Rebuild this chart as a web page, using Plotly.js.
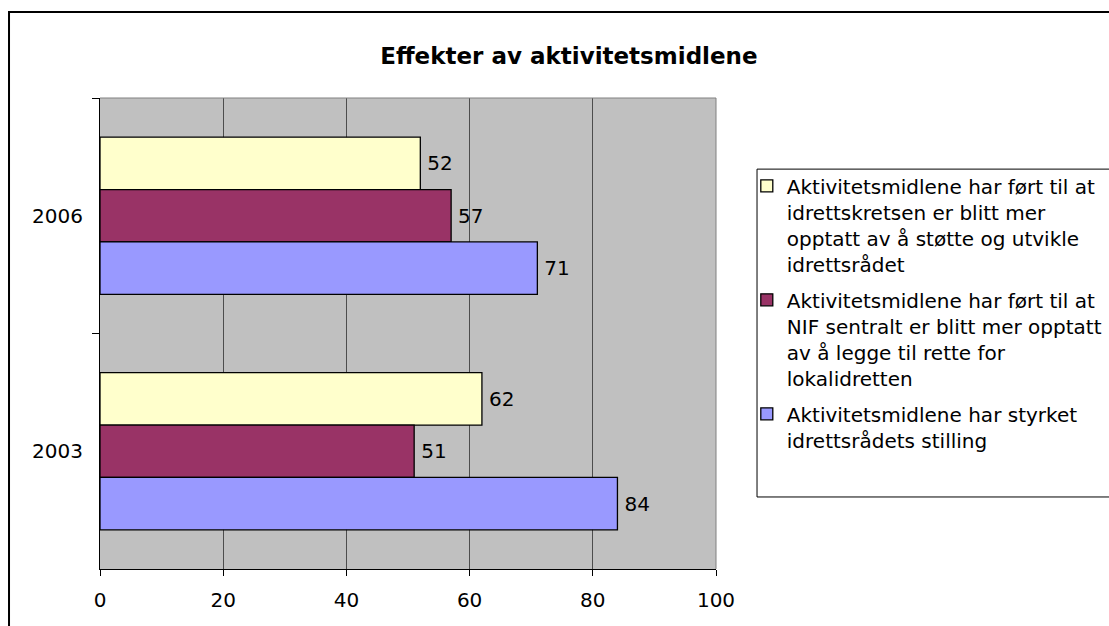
<!DOCTYPE html>
<html>
<head>
<meta charset="utf-8">
<script src="https://cdn.plot.ly/plotly-3.0.1.min.js"></script>
<style>html,body{margin:0;padding:0;background:#fff;}#chart{width:1109px;height:626px;}</style>
</head>
<body>
<div id="chart"></div>
<script>
var categories = ['2006', '2003'];
var seriesNames = [
  'Aktivitetsmidlene har ført til at<br>idrettskretsen er blitt mer<br>opptatt av å støtte og utvikle<br>idrettsrådet',
  'Aktivitetsmidlene har ført til at<br>NIF sentralt er blitt mer opptatt<br>av å legge til rette for<br>lokalidretten',
  'Aktivitetsmidlene har styrket<br>idrettsrådets stilling'
];
var kretsValues = [52, 62];
var nifValues = [57, 51];
var styrketValues = [71, 84];
var seriesColors = ['#FFFFCC', '#993366', '#9999FF'];
var xTicks = [0, 20, 40, 60, 80, 100];

var FONT = 'DejaVu Sans, Verdana, sans-serif';
var allValues = [kretsValues, nifValues, styrketValues];
var traces = allValues.map(function (vals, i) {
  return {
    type: 'bar',
    orientation: 'h',
    name: seriesNames[i],
    legendgroup: 'g' + i,
    y: categories,
    x: vals,
    marker: {color: seriesColors[i], line: {color: '#000000', width: 1.3}},
    text: vals,
    texttemplate: '\u2009%{x}',
    textposition: 'outside',
    cliponaxis: false,
    textfont: {family: FONT, size: 20, color: '#000000'},
    hoverinfo: 'x+name'
  };
});

var layout = {
  width: 1109,
  height: 626,
  margin: {l: 100, r: 393, t: 98, b: 57, pad: 0, autoexpand: false},
  paper_bgcolor: '#ffffff',
  plot_bgcolor: '#C0C0C0',
  barmode: 'group',
  bargap: 0.333,
  bargroupgap: 0,
  font: {family: FONT, size: 20, color: '#000000'},
  title: {
    text: '<b>Effekter av aktivitetsmidlene</b>',
    font: {family: FONT, size: 23, color: '#000000'},
    xref: 'container', yref: 'container',
    x: 0.513, xanchor: 'center',
    y: 0.9105, yanchor: 'middle'
  },
  xaxis: {
    range: [0, 100],
    tickvals: xTicks,
    ticktext: xTicks.map(String),
    showgrid: true,
    gridcolor: '#4d4d4d',
    gridwidth: 1,
    zeroline: false,
    showline: true,
    linecolor: '#000000',
    linewidth: 1,
    ticks: 'outside',
    ticklen: 6,
    tickcolor: '#000000',
    tickfont: {family: FONT, size: 20, color: '#000000'},
    ticklabelstandoff: 7,
    fixedrange: true
  },
  yaxis: {
    type: 'category',
    categoryorder: 'array',
    categoryarray: categories,
    autorange: 'reversed',
    showgrid: false,
    zeroline: false,
    showline: true,
    linecolor: '#000000',
    linewidth: 1,
    ticks: 'outside',
    tickson: 'boundaries',
    ticklen: 7,
    tickcolor: '#000000',
    tickfont: {family: FONT, size: 20, color: '#000000'},
    ticklabelstandoff: 12,
    fixedrange: true
  },
  showlegend: true,
  legend: {
    x: 1.05, xanchor: 'left',
    y: 0.855, yanchor: 'top',
    bgcolor: 'rgba(0,0,0,0)',
    borderwidth: 0,
    traceorder: 'grouped',
    tracegroupgap: 7,
    valign: 'top',
    font: {family: FONT, size: 20, color: '#000000'},
    itemclick: false,
    itemdoubleclick: false
  },
  shapes: [
    {type: 'line', xref: 'paper', yref: 'paper', x0: 0, x1: 1, y0: 1, y1: 1, line: {color: '#808080', width: 1}},
    {type: 'line', xref: 'paper', yref: 'paper', x0: 1, x1: 1, y0: 0, y1: 1, line: {color: '#808080', width: 1}},
    {type: 'rect', xref: 'paper', yref: 'paper', x0: 1.0666, x1: 1.8, y0: 0.1529, y1: 0.849, line: {color: '#000000', width: 1}, fillcolor: 'rgba(0,0,0,0)'},
    {type: 'rect', xref: 'paper', yref: 'paper', x0: -0.1477, x1: 1.9, y0: -0.5, y1: 1.1826, line: {color: '#000000', width: 2}, fillcolor: 'rgba(0,0,0,0)'}
  ]
};

Plotly.newPlot('chart', traces, layout, {displayModeBar: false, staticPlot: true});
</script>
</body>
</html>
